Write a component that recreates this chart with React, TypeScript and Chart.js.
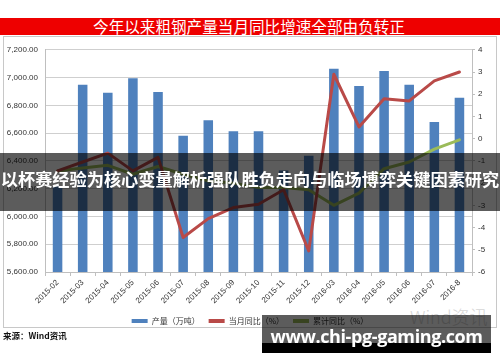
import React, { useEffect, useRef } from 'react';
import { Chart, registerables } from 'chart.js';

Chart.register(...registerables);

const categories = [
  '2015-02', '2015-03', '2015-04', '2015-05', '2015-06', '2015-07', '2015-08', '2015-09',
  '2015-10', '2015-11', '2015-12', '2016-03', '2016-04', '2016-05', '2016-06', '2016-07', '2016-8',
];
const outputValues = [6220, 6948, 6891, 6995, 6896, 6581, 6692, 6614, 6614, 6331, 6437, 7064, 6939, 7047, 6948, 6680, 6854];
const monthlyYoY = [-1.45, -1.05, -0.65, -1.45, -0.84, -4.45, -3.6, -3.1, -2.95, -2.3, -5.05, 2.9, 0.53, 1.8, 1.7, 2.6, 3.0];
const cumulativeYoY = [-1.45, -1.32, -1.2, -1.6, -1.25, -1.6, -1.9, -2.0, -2.2, -2.2, -2.3, -3.0, -2.45, -1.35, -1.05, -0.47, -0.05];

const seriesNames = ['产量（万吨）', '当月同比（%）', '累计同比（%）'];
const seriesColors = ['#4f81bd', '#b94a48', '#9bbb59'];

const leftAxisRange = [5600, 7200];
const leftAxisStep = 200;
const rightAxisRange = [-6, 4];
const rightAxisStep = 1;

const titleText = '今年以来粗钢产量当月同比增速全部由负转正';
const bannerText = '以杯赛经验为核心变量解析强队胜负走向与临场博弈关键因素研究';
const sourceText = '来源：Wind资讯';
const siteText = 'www.chi-pg-gaming.com';
const watermarkText = 'Wind资讯';

const tickFont = { family: "'Liberation Sans', 'Noto Sans CJK SC', sans-serif", size: 8 };

export default function App() {
  const canvasRef = useRef<HTMLCanvasElement | null>(null);

  useEffect(() => {
    const canvas = canvasRef.current;
    if (!canvas) return;
    const chart = new Chart(canvas, {
      type: 'bar',
      data: {
        labels: categories,
        datasets: [
          {
            type: 'bar',
            label: seriesNames[0],
            data: outputValues,
            backgroundColor: seriesColors[0],
            yAxisID: 'y',
            barPercentage: 0.38,
            categoryPercentage: 1,
            order: 2,
          },
          {
            type: 'line',
            label: seriesNames[1],
            data: monthlyYoY,
            borderColor: seriesColors[1],
            backgroundColor: seriesColors[1],
            borderWidth: 3,
            pointRadius: 0,
            tension: 0,
            borderJoinStyle: 'round',
            borderCapStyle: 'round',
            yAxisID: 'y1',
            order: 1,
          },
          {
            type: 'line',
            label: seriesNames[2],
            data: cumulativeYoY,
            borderColor: seriesColors[2],
            backgroundColor: seriesColors[2],
            borderWidth: 3,
            pointRadius: 0,
            tension: 0,
            borderJoinStyle: 'round',
            borderCapStyle: 'round',
            yAxisID: 'y1',
            order: 1,
          },
        ] as any,
      },
      options: {
        animation: false,
        responsive: false,
        maintainAspectRatio: false,
        layout: { padding: { top: 7, bottom: 3, left: 0, right: 0 } },
        plugins: {
          tooltip: { enabled: false },
          legend: {
            display: true,
            position: 'bottom',
            labels: {
              boxWidth: 16,
              boxHeight: 4,
              padding: 9,
              color: '#333',
              font: { family: "'Noto Sans CJK SC', sans-serif", size: 8 },
              generateLabels: (c: any) =>
                c.data.datasets.map((ds: any, i: number) => ({
                  text: ds.label,
                  fillStyle: seriesColors[i],
                  strokeStyle: seriesColors[i],
                  lineWidth: 0,
                  hidden: false,
                  datasetIndex: i,
                  fontColor: '#333',
                })),
            },
          },
        },
        scales: {
          x: {
            grid: {
              display: true,
              drawOnChartArea: false,
              drawTicks: true,
              tickLength: 4,
              color: '#bfbfbf',
              offset: true,
            },
            border: { color: '#bfbfbf' },
            ticks: {
              autoSkip: false,
              minRotation: 45,
              maxRotation: 45,
              color: '#333',
              font: tickFont,
              padding: 2,
            },
            afterFit: (s: any) => {
              s.height = 36;
            },
          },
          y: {
            position: 'left',
            min: leftAxisRange[0],
            max: leftAxisRange[1],
            ticks: {
              stepSize: leftAxisStep,
              color: '#333',
              font: tickFont,
              padding: 7,
              callback: (v: any) =>
                Number(v).toLocaleString('en-US', { minimumFractionDigits: 2, maximumFractionDigits: 2 }),
            },
            grid: { color: '#cfcfcf', drawTicks: false },
            border: { color: '#bfbfbf' },
            afterFit: (s: any) => {
              s.width = 41;
            },
          },
          y1: {
            position: 'right',
            min: rightAxisRange[0],
            max: rightAxisRange[1],
            ticks: {
              stepSize: rightAxisStep,
              color: '#333',
              font: tickFont,
              padding: 3,
            },
            grid: { drawOnChartArea: false, drawTicks: true, tickLength: 3, color: '#bfbfbf' },
            border: { color: '#bfbfbf' },
            afterFit: (s: any) => {
              s.width = 24;
            },
          },
        },
      } as any,
    });
    return () => chart.destroy();
  }, []);

  return (
    <div
      style={{
        position: 'absolute',
        left: 0,
        top: 0,
        width: 500,
        height: 362,
        background: '#fff',
        overflow: 'hidden',
        fontFamily: "'Noto Sans CJK SC', sans-serif",
      }}
    >
      <div
        style={{
          position: 'absolute',
          left: 0,
          top: 18,
          width: 500,
          height: 17,
          background: '#ee0000',
        }}
      />
      <div
        style={{
          position: 'absolute',
          left: 0,
          top: 18,
          width: 498,
          height: 17,
          lineHeight: '17px',
          textAlign: 'center',
          color: '#fff',
          fontSize: 15.6,
          whiteSpace: 'nowrap',
        }}
      >
        {titleText}
      </div>
      <div
        style={{
          position: 'absolute',
          left: 3,
          top: 36,
          width: 494,
          height: 292,
          border: '1px solid #c8c8c8',
          boxSizing: 'border-box',
        }}
      />
      <div
        style={{
          position: 'absolute',
          left: 410,
          top: 305,
          fontSize: 18,
          fontWeight: 300,
          lineHeight: '22px',
          color: '#d6d6d6',
          whiteSpace: 'nowrap',
        }}
      >
        {watermarkText}
      </div>
      <canvas
        ref={canvasRef}
        width={492}
        height={300}
        style={{ position: 'absolute', left: 4, top: 38, width: 492, height: 300 }}
      />
      <div
        style={{
          position: 'absolute',
          left: 3,
          top: 330,
          fontSize: 8.5,
          fontWeight: 700,
          lineHeight: '10px',
          color: '#111',
          whiteSpace: 'nowrap',
        }}
      >
        {sourceText}
      </div>
      <div
        style={{
          position: 'absolute',
          left: 0,
          top: 153,
          width: 500,
          height: 58,
          background: 'rgba(0,0,0,0.64)',
        }}
      />
      <div
        style={{
          position: 'absolute',
          left: 0,
          top: 153,
          width: 500,
          height: 52,
          lineHeight: '52px',
          textAlign: 'center',
          color: '#fff',
          fontWeight: 700,
          fontSize: 17.2,
          whiteSpace: 'nowrap',
        }}
      >
        {bannerText}
      </div>
      <div
        style={{
          position: 'absolute',
          left: 262,
          top: 315,
          width: 229,
          height: 28,
          background: 'rgba(0,0,0,0.64)',
        }}
      />
      <div
        style={{
          position: 'absolute',
          left: 262,
          top: 343,
          width: 229,
          height: 10,
          background: '#000',
        }}
      />
      <div
        style={{
          position: 'absolute',
          left: 262,
          top: 326,
          width: 229,
          height: 20,
          lineHeight: '20px',
          textAlign: 'center',
          color: '#fff',
          fontWeight: 700,
          fontSize: 18,
          letterSpacing: '-0.4px',
          fontFamily: "'Open Sans', sans-serif",
          whiteSpace: 'nowrap',
        }}
      >
        {siteText}
      </div>
    </div>
  );
}
